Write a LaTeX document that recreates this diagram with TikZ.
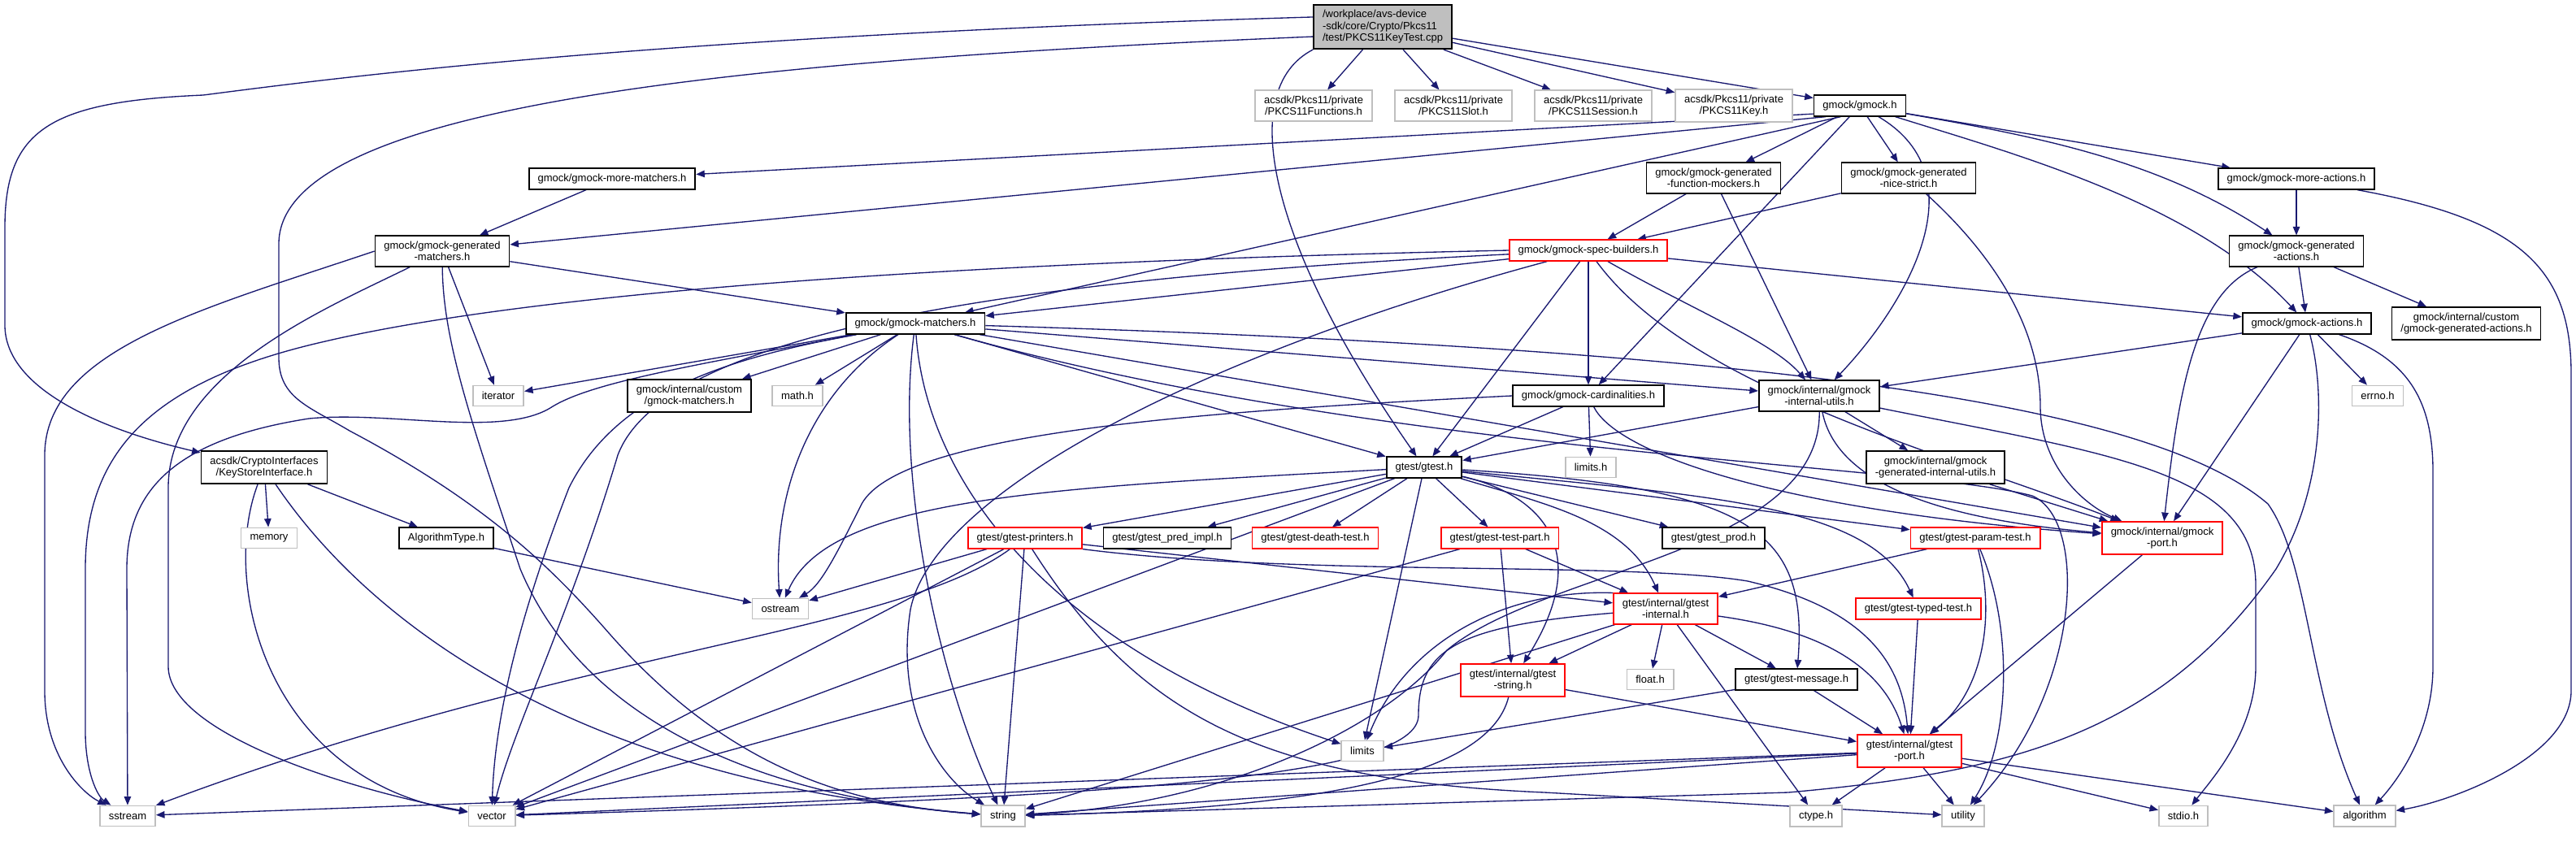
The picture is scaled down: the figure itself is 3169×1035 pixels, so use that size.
\documentclass[tikz,border=0pt]{standalone}
\usepackage{fontspec}
\setmainfont{Liberation Sans}
\usepackage{tikz}
\usetikzlibrary{arrows.meta,backgrounds}
\definecolor{edgeblue}{HTML}{191970}
\definecolor{boxgray}{HTML}{BFBFBF}
\definecolor{boxred}{HTML}{FF0000}
\tikzset{
	file_box/.style={
		draw=black, line width=0.5pt, fill=white,
		rectangle, align=center, text=black,
		font=\fontsize{3.7}{4.1}\selectfont,
		inner xsep=3.1pt, inner ysep=1.9pt, minimum height=7.1pt
	},
	sys_box/.style={file_box, draw=boxgray},
	trunc_box/.style={file_box, draw=boxred},
	main_box/.style={file_box, fill=boxgray, align=left},
	>={Triangle[length=3pt,width=2.4pt]},
	dep_arrow/.style={->, draw=edgeblue, line width=0.38pt}
}
\begin{document}
\begin{tikzpicture}[x=0.01cm, y=-0.01cm]
				\useasboundingbox (0,0) rectangle (3169,1035);
				\node[main_box] (main) at (1701,33) {/workplace/avs-device\\-sdk/core/Crypto/Pkcs11\\/test/PKCS11KeyTest.cpp};
				\node[sys_box] (pfun) at (1616,130) {acsdk/Pkcs11/private\\/PKCS11Functions.h};
				\node[sys_box] (pslot) at (1788,130) {acsdk/Pkcs11/private\\/PKCS11Slot.h};
				\node[sys_box] (psess) at (1960,130) {acsdk/Pkcs11/private\\/PKCS11Session.h};
				\node[sys_box] (pkey) at (2133,130) {acsdk/Pkcs11/private\\/PKCS11Key.h};
				\node[file_box] (gmock) at (2288,130) {gmock/gmock.h};
				\node[file_box] (moremat) at (753,220) {gmock/gmock-more-matchers.h};
				\node[file_box] (funcmock) at (2108,219) {gmock/gmock-generated\\-function-mockers.h};
				\node[file_box] (nicestrict) at (2348,219) {gmock/gmock-generated\\-nice-strict.h};
				\node[file_box] (moreact) at (2825,220) {gmock/gmock-more-actions.h};
				\node[file_box] (genmat) at (544,309) {gmock/gmock-generated\\-matchers.h};
				\node[trunc_box] (specb) at (1954,308) {gmock/gmock-spec-builders.h};
				\node[file_box] (genact) at (2825,309) {gmock/gmock-generated\\-actions.h};
				\node[file_box] (gmatchers) at (1126,398) {gmock/gmock-matchers.h};
				\node[file_box] (actions) at (2838,398) {gmock/gmock-actions.h};
				\node[file_box] (custact) at (3034,398) {gmock/internal/custom\\/gmock-generated-actions.h};
				\node[sys_box] (iterator) at (613,487) {iterator};
				\node[file_box] (custmat) at (848,487) {gmock/internal/custom\\/gmock-matchers.h};
				\node[sys_box] (math) at (981,487) {math.h};
				\node[file_box] (card) at (1954,487) {gmock/gmock-cardinalities.h};
				\node[file_box] (iutils) at (2238,487) {gmock/internal/gmock\\-internal-utils.h};
				\node[sys_box] (errno) at (2925,487) {errno.h};
				\node[file_box] (ksi) at (325,575) {acsdk/CryptoInterfaces\\/KeyStoreInterface.h};
				\node[file_box] (gtest) at (1752,575) {gtest/gtest.h};
				\node[sys_box] (limitsh) at (1957,575) {limits.h};
				\node[file_box] (genutils) at (2381,575) {gmock/internal/gmock\\-generated-internal-utils.h};
				\node[sys_box] (memory) at (331,662) {memory};
				\node[file_box] (algtype) at (549,662) {AlgorithmType.h};
				\node[trunc_box] (printers) at (1261,662) {gtest/gtest-printers.h};
				\node[file_box] (predimpl) at (1436,662) {gtest/gtest\_pred\_impl.h};
				\node[trunc_box] (deathtest) at (1618,662) {gtest/gtest-death-test.h};
				\node[trunc_box] (testpart) at (1845,662) {gtest/gtest-test-part.h};
				\node[file_box] (prod) at (2108,662) {gtest/gtest\_prod.h};
				\node[trunc_box] (paramtest) at (2430,662) {gtest/gtest-param-test.h};
				\node[trunc_box] (gport) at (2660,662) {gmock/internal/gmock\\-port.h};
				\node[sys_box] (ostream) at (960,749) {ostream};
				\node[trunc_box] (ginternal) at (2049,749) {gtest/internal/gtest\\-internal.h};
				\node[trunc_box] (typedtest) at (2360,749) {gtest/gtest-typed-test.h};
				\node[trunc_box] (gstring) at (1861,837) {gtest/internal/gtest\\-string.h};
				\node[sys_box] (floath) at (2030,836) {float.h};
				\node[file_box] (message) at (2210,836) {gtest/gtest-message.h};
				\node[sys_box] (limits) at (1676,924) {limits};
				\node[trunc_box] (tport) at (2349,924) {gtest/internal/gtest\\-port.h};
				\node[sys_box] (sstream) at (157,1004) {sstream};
				\node[sys_box] (vector) at (605,1004) {vector};
				\node[sys_box] (string) at (1234,1004) {string};
				\node[sys_box] (ctype) at (2234,1004) {ctype.h};
				\node[sys_box] (utility) at (2415,1004) {utility};
				\node[sys_box] (stdio) at (2686,1004) {stdio.h};
				\node[sys_box] (algorithm) at (2909,1004) {algorithm};
				\begin{scope}[on background layer]
				\draw[dep_arrow] (main) -- (pfun);
				\draw[dep_arrow] (main) -- (pslot);
				\draw[dep_arrow] (main) -- (psess);
				\draw[dep_arrow] (main) -- (pkey);
				\draw[dep_arrow] (main) -- (gmock);
				\draw[dep_arrow] (main.172) .. controls (800,45) and (420,95) .. (250,117) .. controls (60,125) and (6,160) .. (6,280) -- (6,400) .. controls (6,480) and (130,530) .. (ksi);
				\draw[dep_arrow] (main.188) .. controls (900,75) and (343,130) .. (343,300) -- (343,440) .. controls (343,490) and (380,500) .. (430,530) .. controls (600,620) and (680,700) .. (750,780) .. controls (900,950) and (1050,990) .. (string);
				\draw[dep_arrow] (main.south west) .. controls (1520,110) and (1560,300) .. (gtest);
				\draw[dep_arrow] (gmock.190) -- (moremat);
				\draw[dep_arrow] (gmock.198) -- (genmat);
				\draw[dep_arrow] (gmock.210) -- (gmatchers);
				\draw[dep_arrow] (gmock) -- (funcmock);
				\draw[dep_arrow] (gmock) -- (nicestrict);
				\draw[dep_arrow] (gmock) -- (card);
				\draw[dep_arrow] (gmock) .. controls (2440,220) and (2340,380) .. (iutils);
				\draw[dep_arrow] (gmock) -- (moreact);
				\draw[dep_arrow] (gmock) .. controls (2520,170) and (2660,200) .. (genact);
				\draw[dep_arrow] (gmock) .. controls (2480,190) and (2700,250) .. (actions);
				\draw[dep_arrow] (moremat) -- (genmat);
				\draw[dep_arrow] (genmat) -- (gmatchers);
				\draw[dep_arrow] (genmat) -- (iterator);
				\draw[dep_arrow] (genmat.west) .. controls (250,380) and (55,430) .. (55,560) -- (55,850) .. controls (55,930) and (100,975) .. (sstream);
				\draw[dep_arrow] (genmat) .. controls (400,380) and (207,460) .. (207,600) -- (207,820) .. controls (207,900) and (420,970) .. (vector);
				\draw[dep_arrow] (genmat) .. controls (545,420) and (580,520) .. (640,700) .. controls (740,940) and (1050,990) .. (string);
				\draw[dep_arrow] (gmatchers) -- (iterator);
				\draw[dep_arrow] (gmatchers) -- (custmat);
				\draw[dep_arrow] (gmatchers) -- (math);
				\draw[dep_arrow] (gmatchers) .. controls (850,450) and (730,470) .. (680,500) .. controls (620,540) and (480,505) .. (380,515) .. controls (220,540) and (156,600) .. (156,700) -- (sstream);
				\draw[dep_arrow] (gmatchers) .. controls (900,440) and (760,480) .. (700,600) .. controls (630,780) and (608,900) .. (vector);
				\draw[dep_arrow] (gmatchers) .. controls (1100,600) and (1160,850) .. (string);
				\draw[dep_arrow] (gmatchers) .. controls (1140,600) and (1300,800) .. (limits);
				\draw[dep_arrow] (gmatchers) .. controls (1000,480) and (950,600) .. (ostream);
				\draw[dep_arrow] (gmatchers) -- (gtest);
				\draw[dep_arrow] (gmatchers) -- (iutils);
				\draw[dep_arrow] (gmatchers) -- (gport);
				\draw[dep_arrow] (gmatchers) .. controls (2200,430) and (2650,500) .. (2790,620) .. controls (2840,690) and (2840,850) .. (algorithm);
				\draw[dep_arrow] (gmatchers) .. controls (1700,560) and (2350,570) .. (2500,610) .. controls (2570,640) and (2560,850) .. (utility);
				\draw[dep_arrow] (funcmock) -- (specb);
				\draw[dep_arrow] (funcmock) -- (iutils);
				\draw[dep_arrow] (nicestrict) -- (specb);
				\draw[dep_arrow] (nicestrict) .. controls (2470,330) and (2510,420) .. (2510,500) .. controls (2510,570) and (2560,620) .. (gport);
				\draw[dep_arrow] (specb) -- (gmatchers);
				\draw[dep_arrow] (specb) -- (actions);
				\draw[dep_arrow] (specb) -- (card);
				\draw[dep_arrow] (specb) .. controls (2080,380) and (2180,420) .. (iutils);
				\draw[dep_arrow] (specb) .. controls (2080,480) and (2400,560) .. (gport);
				\draw[dep_arrow] (specb) -- (gtest);
				\draw[dep_arrow] (specb.west) .. controls (1300,320) and (700,350) .. (400,420) .. controls (180,470) and (105,560) .. (105,700) -- (105,900) .. controls (105,950) and (120,980) .. (sstream);
				\draw[dep_arrow] (specb) .. controls (1300,340) and (820,400) .. (760,560) .. controls (700,760) and (630,900) .. (vector);
				\draw[dep_arrow] (specb) .. controls (1500,430) and (1150,600) .. (1120,750) .. controls (1100,880) and (1160,960) .. (string);
				\draw[dep_arrow] (card) -- (limitsh);
				\draw[dep_arrow] (card) -- (gtest);
				\draw[dep_arrow] (card.west) .. controls (1500,505) and (1110,530) .. (1060,620) .. controls (1030,680) and (1010,720) .. (ostream);
				\draw[dep_arrow] (card) .. controls (1990,560) and (2200,630) .. (gport);
				\draw[dep_arrow] (actions) -- (iutils);
				\draw[dep_arrow] (actions) -- (gport);
				\draw[dep_arrow] (actions) -- (errno);
				\draw[dep_arrow] (actions) .. controls (2960,440) and (2993,490) .. (2993,580) -- (2993,820) .. controls (2993,900) and (2950,960) .. (algorithm);
				\draw[dep_arrow] (actions) .. controls (2860,480) and (2860,600) .. (2800,700) .. controls (2660,900) and (2480,950) .. (2200,975) -- (string);
				\draw[dep_arrow] (genact) -- (actions);
				\draw[dep_arrow] (genact) -- (custact);
				\draw[dep_arrow] (genact) .. controls (2700,360) and (2680,480) .. (gport);
				\draw[dep_arrow] (moreact) -- (genact);
				\draw[dep_arrow] (moreact) .. controls (3100,270) and (3163,330) .. (3163,460) -- (3163,850) .. controls (3163,930) and (3020,985) .. (algorithm);
				\draw[dep_arrow] (iutils) -- (gtest);
				\draw[dep_arrow] (iutils) -- (genutils);
				\draw[dep_arrow] (iutils) .. controls (2260,600) and (2400,640) .. (gport);
				\draw[dep_arrow] (iutils) .. controls (2600,560) and (2775,580) .. (2775,720) -- (2775,820) .. controls (2775,900) and (2720,960) .. (stdio);
				\draw[dep_arrow] (iutils) .. controls (2240,680) and (1900,700) .. (1780,800) .. controls (1700,900) and (1500,990) .. (string);
				\draw[dep_arrow] (gtest) -- (printers);
				\draw[dep_arrow] (gtest) -- (predimpl);
				\draw[dep_arrow] (gtest) -- (deathtest);
				\draw[dep_arrow] (gtest) -- (testpart);
				\draw[dep_arrow] (gtest) -- (prod);
				\draw[dep_arrow] (gtest) -- (limits);
				\draw[dep_arrow] (gtest) .. controls (1300,600) and (1020,610) .. (ostream);
				\draw[dep_arrow] (gtest) -- (vector);
				\draw[dep_arrow] (gtest) -- (paramtest);
				\draw[dep_arrow] (gtest) .. controls (1900,620) and (2000,640) .. (ginternal);
				\draw[dep_arrow] (gtest) .. controls (1900,610) and (1960,680) .. (gstring);
				\draw[dep_arrow] (gtest) .. controls (2100,610) and (2300,620) .. (typedtest);
				\draw[dep_arrow] (gtest) .. controls (2150,600) and (2225,650) .. (message);
				\draw[dep_arrow] (printers) -- (ostream);
				\draw[dep_arrow] (printers) .. controls (1100,780) and (700,800) .. (sstream);
				\draw[dep_arrow] (printers) -- (string);
				\draw[dep_arrow] (printers) -- (vector);
				\draw[dep_arrow] (printers) -- (ginternal);
				\draw[dep_arrow] (printers.south east) .. controls (1600,710) and (2000,690) .. (2150,715) .. controls (2300,750) and (2340,820) .. (tport);
				\draw[dep_arrow] (printers) .. controls (1400,880) and (1550,960) .. (1900,975) -- (utility);
				\draw[dep_arrow] (testpart) -- (vector);
				\draw[dep_arrow] (testpart) -- (ginternal);
				\draw[dep_arrow] (testpart) -- (gstring);
				\draw[dep_arrow] (paramtest) -- (ginternal);
				\draw[dep_arrow] (paramtest) .. controls (2455,760) and (2440,850) .. (tport);
				\draw[dep_arrow] (paramtest) .. controls (2480,780) and (2470,920) .. (utility);
				\draw[dep_arrow] (typedtest) -- (tport);
				\draw[dep_arrow] (gport) -- (tport);
				\draw[dep_arrow] (genutils) -- (gport);
				\draw[dep_arrow] (gstring) .. controls (1830,960) and (1600,995) .. (string);
				\draw[dep_arrow] (gstring) -- (tport);
				\draw[dep_arrow] (message) -- (limits);
				\draw[dep_arrow] (message) -- (tport);
				\draw[dep_arrow] (ginternal) -- (ctype);
				\draw[dep_arrow] (ginternal) -- (floath);
				\draw[dep_arrow] (ginternal.north west) .. controls (1850,725) and (1730,790) .. (limits);
				\draw[dep_arrow] (ginternal) -- (string);
				\draw[dep_arrow] (ginternal) .. controls (1790,770) and (1745,800) .. (1745,880) .. controls (1745,955) and (1400,980) .. (vector);
				\draw[dep_arrow] (ginternal) -- (message);
				\draw[dep_arrow] (ginternal) -- (gstring);
				\draw[dep_arrow] (ginternal) .. controls (2200,770) and (2310,800) .. (tport);
				\draw[dep_arrow] (tport) -- (ctype);
				\draw[dep_arrow] (tport) -- (utility);
				\draw[dep_arrow] (tport) -- (stdio);
				\draw[dep_arrow] (tport) -- (algorithm);
				\draw[dep_arrow] (tport) -- (sstream);
				\draw[dep_arrow] (tport) -- (vector);
				\draw[dep_arrow] (tport) -- (string);
				\draw[dep_arrow] (ksi) -- (memory);
				\draw[dep_arrow] (ksi) -- (algtype);
				\draw[dep_arrow] (ksi) .. controls (270,720) and (330,960) .. (vector);
				\draw[dep_arrow] (ksi) .. controls (450,760) and (700,960) .. (string);
				\draw[dep_arrow] (algtype) -- (ostream);
				\end{scope}
			\end{tikzpicture}
\end{document}
